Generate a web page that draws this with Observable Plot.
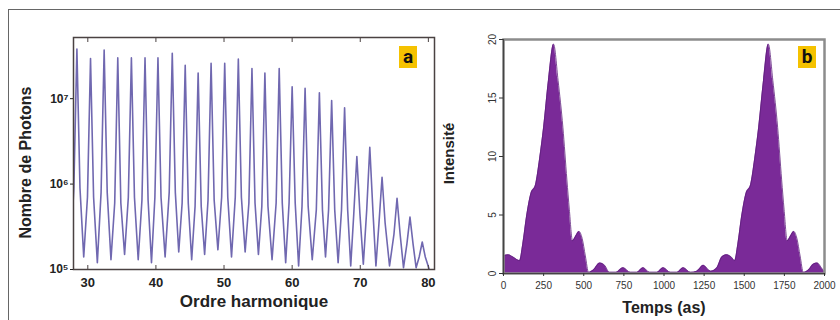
<!DOCTYPE html>
<html>
<head>
<meta charset="utf-8">
<script src="https://cdn.jsdelivr.net/npm/d3@7"></script>
<script src="https://cdn.jsdelivr.net/npm/@observablehq/plot@0.6"></script>
<style>
  body { margin: 0; background: #fff; }
  #wrap { position: relative; width: 840px; height: 320px; overflow: hidden; font-family: "Liberation Sans", Arial, sans-serif; }
  #wrap svg { position: absolute; top: 0; }
  .edge-top { position: absolute; left: 8px; top: 9px; width: 832px; height: 0; border-top: 1.5px solid #666; }
  .edge-left { position: absolute; left: 8px; top: 9px; width: 0; height: 311px; border-left: 1.5px solid #666; }
  .tag { position: absolute; top: 46px; width: 18px; height: 22px; background: #f5c200; color: #111;
         font: bold 19px Roboto, "Liberation Sans", sans-serif; text-align: center; line-height: 21px; z-index: 5; }
</style>
</head>
<body>
<div id="wrap">
  <div class="edge-top"></div>
  <div class="edge-left"></div>
  <div class="tag" style="left:399px">a</div>
  <div class="tag" style="left:798px">b</div>
</div>
<script>
// ---------- Panel a: harmonic spectrum ----------
const peakHarmonic = [28.4, 30.4, 32.4, 34.4, 36.4, 38.4, 40.3, 42.4, 44.3, 46.2, 48.1, 50.1, 52.1, 54.1,
                      56.0, 58.1, 60.0, 61.9, 64.0, 65.8, 67.7, 69.5, 71.4, 73.2, 75.4, 77.3, 79.1];
const peakPhotons = [3.8e7, 2.95e7, 3.7e7, 3.0e7, 3.0e7, 3.0e7, 3.0e7, 3.4e7, 2.45e7, 2.0e7, 2.6e7, 2.6e7, 2.9e7, 2.25e7,
                     2.0e7, 2.25e7, 1.38e7, 1.32e7, 1.17e7, 9.5e6, 7.8e6, 2.1e6, 2.7e6, 1.2e6, 6.8e5, 4.1e5, 2.1e5];
const shoulderPhotons = [9e5, 7e5, 8e5, 6e5, 7e5, 6.5e5, 7e5, 8e5, 6e5, 5.5e5, 6.5e5, 7e5, 7e5, 6e5,
                         5.5e5, 6e5, 6e5, 5.5e5, 5e5, 5e5, 5e5, 4.5e5, 5e5, 3.5e5, 2.6e5, 2e5, 1.4e5];
const valleyPhotons = [1.2e5, 1.4e5, 1.2e5, 1.3e5, 1.5e5, 1.3e5, 1.2e5, 1.4e5, 1.6e5, 1.3e5, 1.5e5, 1.7e5, 1.4e5, 1.6e5,
                       1.5e5, 1.3e5, 1.2e5, 1.1e5, 1.3e5, 1.4e5, 1.2e5, 1.1e5, 1.15e5, 1.1e5, 1.1e5, 1.05e5, 1.05e5, 1.02e5];
const harmonicTicks = [30, 40, 50, 60, 70, 80];
const photonTicks = [1e5, 1e6, 1e7];
const photonTickLabels = ["10⁵", "10⁶", "10⁷"];

// ---------- Panel b: attosecond pulse train ----------
const timeAs = [0, 30, 60, 100, 120, 145, 170, 200, 225, 250, 280, 312, 340, 370, 395, 410, 430, 450, 470, 490, 510, 530,
                560, 600, 630, 660, 700, 745, 790, 830, 870, 910, 955, 995, 1040, 1080, 1120, 1165, 1205, 1245, 1290,
                1330, 1360, 1390, 1420, 1440, 1460, 1485, 1510, 1540, 1565, 1590, 1620, 1650, 1678, 1708, 1733, 1748,
                1768, 1788, 1808, 1828, 1848, 1868, 1900, 1930, 1955, 1980, 2000];
const intensity = [1.5, 1.6, 1.4, 1.1, 2.5, 5.0, 6.8, 7.6, 9.8, 12.5, 16.5, 19.6, 16.5, 12.5, 8, 5.5, 2.8, 3.2, 3.6, 3.0, 1.5, 0.1,
                   0.3, 0.9, 0.7, 0.1, 0.1, 0.5, 0.1, 0.1, 0.5, 0.1, 0.1, 0.5, 0.1, 0.1, 0.5, 0.1, 0.2, 0.7, 0.2,
                   0.5, 1.4, 1.6, 1.4, 1.1, 2.5, 5.0, 6.8, 7.6, 9.8, 12.5, 16.5, 19.6, 16.5, 12.5, 8, 5.5,
                   2.8, 3.2, 3.6, 3.0, 1.5, 0.1, 0.3, 0.8, 0.9, 0.5, 0.1];
const timeTicks = [0, 250, 500, 750, 1000, 1250, 1500, 1750, 2000];
const intensityTicks = [0, 5, 10, 15, 20];

// Build spectrum line: valley, shoulder, peak, shoulder for each harmonic
const halfWidth = 0.45;
const spectrum = [];
peakHarmonic.forEach((h, i) => {
  const prev = i === 0 ? h - 2 : peakHarmonic[i - 1];
  spectrum.push({h: (prev + h) / 2, n: valleyPhotons[i]});
  spectrum.push({h: h - halfWidth, n: shoulderPhotons[i]});
  spectrum.push({h: h, n: peakPhotons[i]});
  spectrum.push({h: h + halfWidth, n: shoulderPhotons[i]});
});
spectrum.push({h: peakHarmonic[peakHarmonic.length - 1] + 1, n: valleyPhotons[valleyPhotons.length - 1]});

const pulse = timeAs.map((t, i) => ({t, v: intensity[i]}));

const font = "Liberation Sans, Arial, sans-serif";

const plotA = Plot.plot({
  width: 440, height: 320,
  marginLeft: 73, marginRight: 6, marginTop: 37, marginBottom: 51,
  x: {domain: [27.9, 80.9]},
  y: {type: "log", domain: [1e5, 5.2e7]},
  style: {fontFamily: font, color: "#222", background: "transparent", overflow: "visible"},
  marks: [
    Plot.line(spectrum, {x: "h", y: "n", stroke: "#7068b0", strokeWidth: 1.6, clip: true}),
    Plot.frame({stroke: "#4a4242", strokeWidth: 1.5}),
    Plot.axisX({ticks: harmonicTicks, anchor: "bottom", tickSize: -4, tickPadding: 12, tickFormat: d => String(d),
                fontSize: 13, fontWeight: "bold", label: null, stroke: "#4a4242"}),
    Plot.axisX({ticks: harmonicTicks, anchor: "top", tickSize: -4, tickFormat: () => "", label: null, stroke: "#4a4242"}),
    Plot.axisY({ticks: photonTicks, tickSize: 3, tickPadding: 2, tickFormat: d => photonTickLabels[photonTicks.indexOf(d)],
                fontSize: 12, fontWeight: "bold", label: null}),
    Plot.text(["Ordre harmonique"], {frameAnchor: "bottom", dy: 37, text: d => d, fontSize: 17, fontWeight: "bold", fill: "#222"}),
    Plot.text(["Nombre de Photons"], {frameAnchor: "left", textAnchor: "middle", dx: -48, dy: 9, rotate: -90, text: d => d,
                                      fontSize: 16, fontWeight: "bold", fill: "#222"})
  ]
});
plotA.style.left = "0px";

const plotB = Plot.plot({
  width: 400, height: 320,
  marginLeft: 63, marginRight: 16, marginTop: 39, marginBottom: 47,
  x: {domain: [0, 2000]},
  y: {domain: [0, 20]},
  style: {fontFamily: font, color: "#333", background: "transparent", overflow: "visible"},
  marks: [
    Plot.areaY(pulse, {x: "t", y: "v", fill: "#7a2a98", curve: "monotone-x"}),
    Plot.line(pulse, {x: "t", y: "v", stroke: "#5e1f7c", strokeWidth: 0.8, curve: "monotone-x"}),
    Plot.frame({stroke: "#8c8c8c", strokeWidth: 2.5}),
    Plot.ruleX([0], {stroke: "#444", strokeWidth: 1.2}),
    Plot.ruleY([0], {stroke: "#444", strokeWidth: 1.2}),
    Plot.axisX({ticks: timeTicks, tickSize: 3, tickPadding: 5, tickFormat: d => String(d), fontSize: 10, label: null}),
    Plot.axisY({ticks: intensityTicks, tickSize: 4, tickPadding: 4, tickRotate: -90, tickFormat: d => String(d), fontSize: 10, label: null}),
    Plot.text(["Temps (as)"], {frameAnchor: "bottom", dy: 39, text: d => d, fontSize: 16, fontWeight: "bold", fill: "#222"}),
    Plot.text(["Intensité"], {frameAnchor: "left", textAnchor: "middle", dx: -54, dy: -3, rotate: -90, text: d => d,
                              fontSize: 15, fontWeight: "bold", fill: "#222"})
  ]
});
plotB.style.left = "440px";

const wrap = document.getElementById("wrap");
wrap.appendChild(plotA);
wrap.appendChild(plotB);
</script>
</body>
</html>
